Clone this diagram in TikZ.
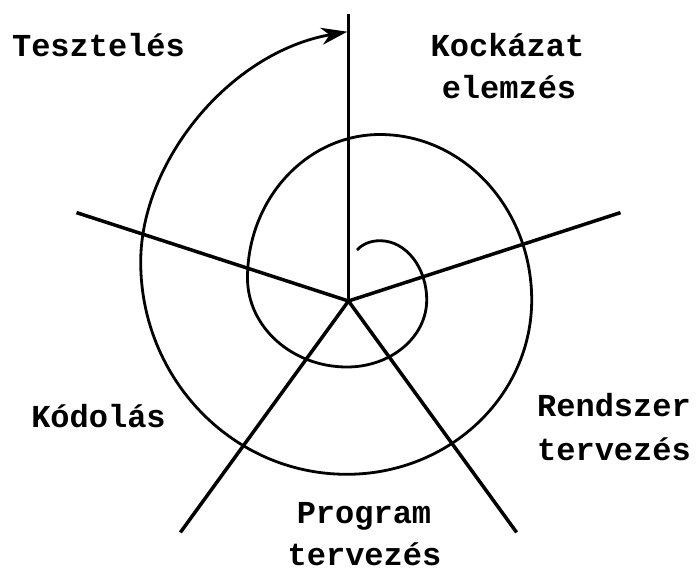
\documentclass[tikz,border=0pt]{standalone}
\usepackage{fontspec}
\setmonofont{Liberation Mono}
\usetikzlibrary{arrows.meta}
\begin{document}
\begin{tikzpicture}[x=1pt,y=-1pt,
  spoke/.style={line width=3.5pt},
  spiralline/.style={line width=2.8pt},
  lbl/.style={font=\ttfamily\bfseries\fontsize{32}{38}\selectfont, inner sep=0pt, anchor=base}]
\useasboundingbox (0,0) rectangle (699,571);
\coordinate (c) at (348.5,301);
\coordinate (eN) at (348.5,14);
\coordinate (eE) at (620.5,212.6);
\coordinate (eW) at (76.5,212.6);
\coordinate (eSW) at (180.4,532.4);
\coordinate (eSE) at (516.6,532.4);
\coordinate (s0) at (357,250);
\coordinate (s1) at (380,240.7);
\coordinate (s2) at (426.7,300);
\coordinate (s3) at (347,367);
\coordinate (s4) at (247.5,278);
\coordinate (s5) at (380,134.5);
\coordinate (s6) at (531.7,300);
\coordinate (s7) at (346.7,474.3);
\coordinate (s8) at (140.7,262);
\coordinate (s9) at (347.3,31.7);
\draw[spoke] (c) -- (eN);
\draw[spoke] (c) -- (eE);
\draw[spoke] (c) -- (eW);
\draw[spoke] (c) -- (eSW);
\draw[spoke] (c) -- (eSE);
\draw[spiralline, -{Stealth[length=26pt,width=17pt,inset=8pt]}]
 (s0) .. controls (362,244.5) and (370,240.7) .. (s1)
 .. controls (405.8,240.7) and (426.7,267.3) .. (s2)
 .. controls (426.7,337) and (391,367) .. (s3)
 .. controls (292.1,367) and (247.5,327) .. (s4)
 .. controls (247.5,198.8) and (306.9,134.5) .. (s5)
 .. controls (463.7,134.5) and (531.7,208.6) .. (s6)
 .. controls (531.7,396.3) and (448.9,474.3) .. (s7)
 .. controls (232.9,474.3) and (140.7,379.2) .. (s8)
 .. controls (140.7,162) and (229.1,52.5) .. (s9);
\node[lbl] (test) at (98.5,56.7) {Tesztelés};
\node[lbl] (kock1) at (507.5,56) {Kockázat};
\node[lbl] (kock2) at (509,98) {elemzés};
\node[lbl] (kod) at (98.5,427) {Kódolás};
\node[lbl] (rend1) at (614,416.7) {Rendszer};
\node[lbl] (rend2) at (614,460) {tervezés};
\node[lbl] (prog1) at (364,523) {Program};
\node[lbl] (prog2) at (364.5,565) {tervezés};
\end{tikzpicture}
\end{document}
